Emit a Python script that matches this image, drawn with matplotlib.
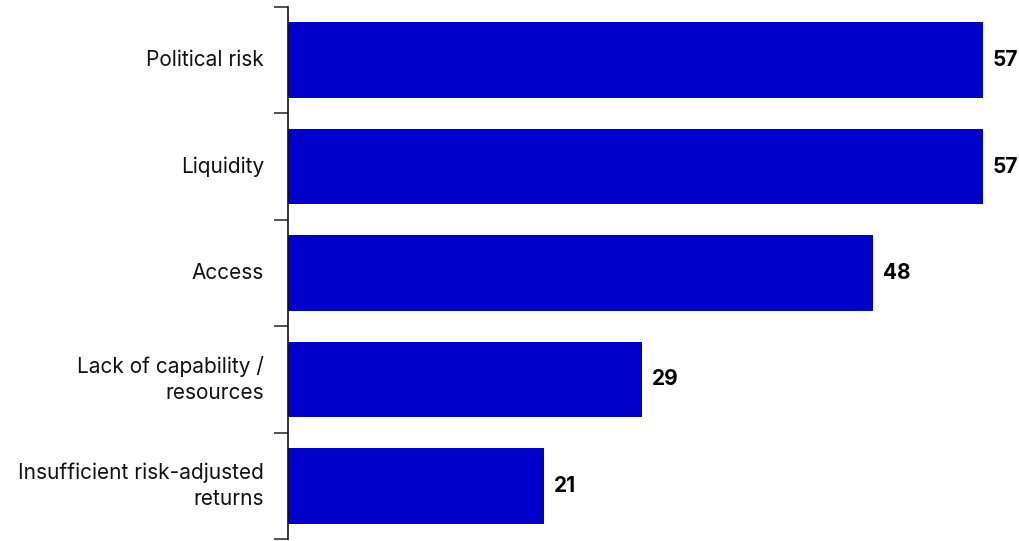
import matplotlib.pyplot as plt
import numpy as np

categories = ["Political risk", "Liquidity", "Access",
              "Lack of capability /\nresources", "Insufficient risk-adjusted\nreturns"]
values = [57, 57, 48, 29, 21]

bar_color = "#0000CC"

fig = plt.figure(figsize=(10.19, 5.41), dpi=100)
ax = fig.add_axes([288 / 1019, 2 / 541, (983 - 288) / 1019, (539 - 7) / 541])

y = np.arange(len(categories))
ax.barh(y, values, height=0.71, color=bar_color)

ax.set_xlim(0, 57)
ax.set_ylim(len(categories) - 0.5, -0.5)

# boundary ticks between categories
ax.set_yticks(np.arange(-0.5, len(categories), 1.0))
ax.set_yticklabels([])
ax.tick_params(axis='y', length=10, width=1.2, color='#333333')
ax.set_xticks([])

for s in ['top', 'right', 'bottom']:
    ax.spines[s].set_visible(False)
ax.spines['left'].set_linewidth(1.2)
ax.spines['left'].set_color('#111111')

# category labels
for yi, cat in zip(y, categories):
    ax.annotate(cat, xy=(0, yi), xycoords='data', xytext=(-24, 0), textcoords='offset pixels',
                ha='right', va='center', fontsize=15, family='Inter', color='#111111',
                linespacing=1.4, annotation_clip=False)

# value labels
for yi, v in zip(y, values):
    ax.annotate(str(v), xy=(v, yi), xycoords='data', xytext=(10, 0), textcoords='offset pixels',
                ha='left', va='center', fontsize=15, fontweight='bold', family='Inter',
                color='#000000', annotation_clip=False)

plt.savefig('out.png', dpi=100)
